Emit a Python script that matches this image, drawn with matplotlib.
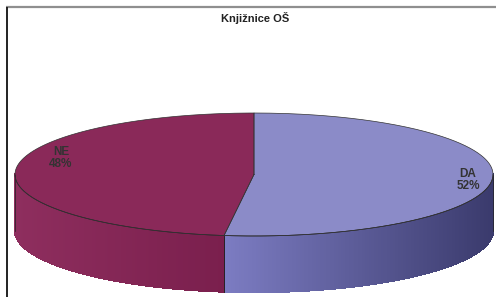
import numpy as np
import matplotlib.pyplot as plt
from matplotlib.collections import PolyCollection
from matplotlib.colors import to_rgb

# podaci
labels = ['DA', 'NE']
values = [52, 48]
top_colors = ['#8B8BC8', '#8A2959']
# boje bocne strane (lijevo -> desno)
side_colors = [('#7C7CC2', '#3A3A6C'), ('#8E2E5E', '#7A1F4D')]
title = 'Knjižnice OŠ'

# geometrija (pikseli)
cx, cy = 254, 174.5
a, b = 239, 61.5
depth = 56


def ell(theta):
    # theta u stupnjevima, u smjeru kazaljke od vrha
    t = np.radians(theta)
    return cx + a * np.sin(t), cy - b * np.cos(t)


def blend(c1, c2, f):
    c1, c2 = np.array(to_rgb(c1)), np.array(to_rgb(c2))
    return tuple(c1 + (c2 - c1) * f)


fig = plt.figure(figsize=(4.97, 2.97), dpi=100)
ax = fig.add_axes([0, 0, 1, 1])
ax.set_xlim(0, 497)
ax.set_ylim(297, 0)
ax.axis('off')

# okvir
ax.plot([6, 496], [7, 7], color='#8F8F8F', lw=1.6, solid_capstyle='butt')
ax.plot([6.5, 6.5], [7, 297], color='#222222', lw=1.4, solid_capstyle='butt')

total = sum(values)
bounds = np.concatenate([[0], np.cumsum(values) / total * 360])

# bocne strane (vidljivi dio: 90..270)
for i in range(len(values)):
    t0, t1 = max(bounds[i], 90), min(bounds[i + 1], 270)
    if t1 <= t0:
        continue
    th = np.linspace(t0, t1, 200)
    xs, ys = ell(th)
    polys, cols = [], []
    xmin, xmax = xs.min(), xs.max()
    for j in range(len(th) - 1):
        polys.append([(xs[j], ys[j]), (xs[j + 1], ys[j + 1]),
                      (xs[j + 1], ys[j + 1] + depth), (xs[j], ys[j] + depth)])
        f = ((xs[j] + xs[j + 1]) / 2 - xmin) / (xmax - xmin)
        cols.append(blend(side_colors[i][0], side_colors[i][1], f))
    ax.add_collection(PolyCollection(polys, facecolors=cols, edgecolors=cols,
                                     linewidths=1.0, antialiaseds=False))
    # rubovi
    ax.plot(xs, ys, color='#222222', lw=0.5)
    ax.plot([xs[0], xs[0]], [ys[0], ys[0] + depth], color='#222222', lw=0.5)
    ax.plot([xs[-1], xs[-1]], [ys[-1], ys[-1] + depth], color='#222222', lw=0.5)

# gornja ploha
for i in range(len(values)):
    th = np.linspace(bounds[i], bounds[i + 1], 300)
    xs, ys = ell(th)
    pts = np.column_stack([np.r_[cx, xs, cx], np.r_[cy, ys, cy]])
    ax.fill(pts[:, 0], pts[:, 1], color=top_colors[i], lw=0)
    ax.plot(pts[:, 0], pts[:, 1], color='#333333', lw=0.5)

# natpisi
label_pos = [(468, 180), (61, 158)]
for lab, v, (x, y) in zip(labels, values, label_pos):
    ax.text(x, y, f'{lab}\n{v}%', ha='center', va='center', fontsize=8.5,
            fontweight='bold', color='#333333', family='Liberation Sans',
            linespacing=1.1)

ax.text(255, 18, title, ha='center', va='center', fontsize=8,
        fontweight='bold', color='#222222', family='Liberation Sans')

fig.savefig('out.png', dpi=100)
